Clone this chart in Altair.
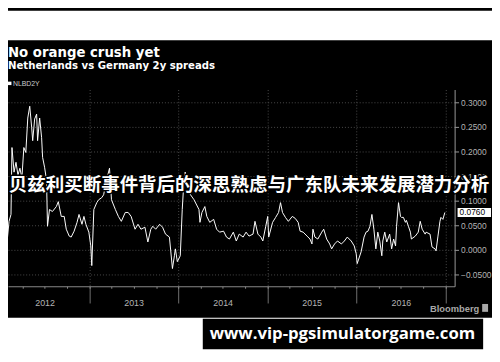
import altair as alt
import pandas as pd

TITLE = "No orange crush yet"
SUBTITLE = "Netherlands vs Germany 2y spreads"
SERIES = "NLBD2Y"
OVERLAY = "贝兹利买断事件背后的深思熟虑与广东队未来发展潜力分析"
URL = "www.vip-pgsimulatorgame.com"
SOURCE = "Bloomberg"

# time as decimal years
decimal_years = [
    2012.000, 2012.022, 2012.055, 2012.077, 2012.099, 2012.121, 2012.132, 2012.155, 2012.177, 2012.199,
    2012.221, 2012.243, 2012.265, 2012.287, 2012.309, 2012.331, 2012.353, 2012.364, 2012.386, 2012.408,
    2012.419, 2012.442, 2012.464, 2012.475, 2012.497, 2012.519, 2012.530, 2012.552, 2012.585, 2012.629,
    2012.651, 2012.684, 2012.717, 2012.740, 2012.773, 2012.795, 2012.828, 2012.861, 2012.883, 2012.916,
    2012.938, 2012.960, 2012.993, 2013.015, 2013.026, 2013.049, 2013.082, 2013.104, 2013.137, 2013.159,
    2013.192, 2013.225, 2013.247, 2013.291, 2013.325, 2013.358, 2013.402, 2013.435, 2013.468, 2013.512,
    2013.545, 2013.578, 2013.623, 2013.656, 2013.689, 2013.711, 2013.744, 2013.788, 2013.821, 2013.854,
    2013.898, 2013.932, 2013.954, 2013.965, 2013.987, 2014.020, 2014.042, 2014.053, 2014.075, 2014.097,
    2014.119, 2014.174, 2014.230, 2014.241, 2014.263, 2014.296, 2014.318, 2014.351, 2014.395, 2014.428,
    2014.461, 2014.506, 2014.539, 2014.572, 2014.616, 2014.649, 2014.682, 2014.726, 2014.759, 2014.792,
    2014.837, 2014.859, 2014.892, 2014.925, 2014.947, 2014.980, 2015.002, 2015.013, 2015.057, 2015.091,
    2015.124, 2015.146, 2015.168, 2015.201, 2015.234, 2015.278, 2015.311, 2015.344, 2015.366, 2015.400,
    2015.444, 2015.477, 2015.499, 2015.510, 2015.532, 2015.565, 2015.609, 2015.631, 2015.664, 2015.698,
    2015.720, 2015.753, 2015.786, 2015.830, 2015.863, 2015.896, 2015.940, 2015.974, 2015.996, 2016.007,
    2016.051, 2016.084, 2016.106, 2016.128, 2016.150, 2016.172, 2016.194, 2016.216, 2016.238, 2016.260,
    2016.283, 2016.294, 2016.316, 2016.338, 2016.371, 2016.393, 2016.415, 2016.437, 2016.448, 2016.470,
    2016.492, 2016.503, 2016.525, 2016.547, 2016.558, 2016.581, 2016.603, 2016.614, 2016.658, 2016.691,
    2016.713, 2016.735, 2016.768, 2016.779, 2016.823, 2016.845, 2016.879, 2016.890, 2016.912, 2016.934,
    2016.945, 2016.967, 2016.989,
]

spread = [
    0.058, 0.006, 0.062, 0.016, 0.058, 0.072, 0.208, 0.158, 0.178, 0.152,
    0.166, 0.146, 0.208, 0.198, 0.268, 0.292, 0.248, 0.222, 0.266, 0.276,
    0.222, 0.268, 0.228, 0.188, 0.168, 0.142, 0.048, 0.082, 0.078, 0.088,
    0.098, 0.068, 0.068, 0.042, 0.028, 0.026, 0.038, 0.056, 0.072, 0.052,
    0.068, 0.052, 0.036, 0.008, -0.032, 0.082, 0.096, 0.102, 0.106, 0.112,
    0.142, 0.166, 0.102, 0.082, 0.068, 0.058, 0.076, 0.076, 0.068, 0.042,
    0.052, 0.042, 0.046, 0.016, 0.042, 0.048, 0.042, 0.052, 0.046, 0.032,
    0.026, -0.038, -0.012, 0.002, -0.024, -0.012, 0.082, 0.116, 0.158, 0.142,
    0.116, 0.102, 0.082, 0.056, 0.076, 0.088, 0.068, 0.056, 0.062, 0.042,
    0.036, 0.038, 0.026, 0.022, 0.036, 0.018, 0.032, 0.026, 0.036, 0.028,
    0.032, 0.058, 0.032, 0.026, 0.018, 0.048, 0.068, 0.026, 0.056, 0.066,
    0.076, 0.096, 0.076, 0.066, 0.058, 0.068, 0.064, 0.056, 0.038, 0.036,
    0.028, 0.022, 0.012, 0.042, 0.026, 0.022, 0.036, 0.042, 0.022, 0.012,
    0.002, 0.012, 0.018, 0.012, 0.018, 0.026, 0.018, 0.008, -0.008, -0.028,
    -0.004, 0.026, 0.036, 0.038, 0.048, 0.072, 0.042, 0.002, 0.036, 0.018,
    -0.012, 0.018, 0.036, 0.016, 0.032, 0.002, 0.022, 0.008, 0.048, 0.096,
    0.068, 0.066, 0.066, 0.056, 0.060, 0.048, 0.036, 0.022, 0.028, 0.036,
    0.058, 0.042, 0.032, 0.036, 0.032, 0.006, 0.002, -0.002, 0.028, 0.058,
    0.066, 0.062, 0.076,
]

y_ticks = [-0.05, 0.0, 0.05, 0.10, 0.15, 0.20, 0.25, 0.30]
year_bounds = [2013, 2014, 2015, 2016, 2017]
quarter_ticks = [(y, m) for y in [2012, 2013, 2014, 2015, 2016] for m in [1, 4, 7, 10]][1:] + [(2017, 1)]
last_label = ["0.0760"]
last_value = [0.076]


def to_date(t):
    year = int(t)
    start = pd.Timestamp(year=year, month=1, day=1)
    end = pd.Timestamp(year=year + 1, month=1, day=1)
    return start + (end - start) * (t - year)


df = pd.DataFrame({
    "date": [to_date(t).strftime("%Y-%m-%dT%H:%M:%S") for t in decimal_years],
    "spread": spread,
})
last_df = pd.DataFrame({"spread": last_value, "label": last_label})
one = alt.Data(values=[{}])

x_scale = alt.Scale(domain=[alt.DateTime(year=2012, month=2, date=2),
                            alt.DateTime(year=2017, month=2, date=6)])
y_scale = alt.Scale(domain=[-0.074, 0.326], nice=False, zero=False)

y_axis = alt.Axis(orient="right", values=y_ticks, format=".4f", title="",
                  tickSize=4, tickColor="#9a9a9a", domainColor="#9a9a9a",
                  labelColor="#b4b4b4", labelFontSize=8.5, labelFont="Liberation Sans",
                  labelPadding=2, labelOverlap=False, labelFlush=False,
                  grid=True, gridColor="#4a4a4a", gridDash=[1, 2])
year_axis = alt.Axis(orient="bottom",
                     values=[alt.DateTime(year=y, month=1, date=1) for y in year_bounds],
                     labels=False, tickSize=17, tickColor="#707070",
                     domainColor="#8a8a8a", grid=True, gridColor="#4a4a4a",
                     gridDash=[1, 2], title="")
quarter_axis = alt.Axis(orient="bottom",
                        values=[alt.DateTime(year=y, month=m, date=1) for y, m in quarter_ticks],
                        tickSize=2, tickColor="#8a8a8a", domain=False, grid=False,
                        labelExpr="month(datum.value) == 6 ? timeFormat(datum.value, '%Y') : ''",
                        labelColor="#b4b4b4", labelFontSize=9, labelFont="Liberation Sans",
                        labelPadding=11, labelOverlap=False, labelFlush=False, title="")

white_top = alt.Chart(one).mark_rect(color="white").encode(
    x=alt.value(0), x2=alt.value(492), y=alt.value(-80), y2=alt.value(-50))
white_bottom = alt.Chart(one).mark_rect(color="white").encode(
    x=alt.value(0), x2=alt.value(492), y=alt.value(232), y2=alt.value(270))
url_box = alt.Chart(one).mark_rect(color="black").encode(
    x=alt.value(198), x2=alt.value(483), y=alt.value(233), y2=alt.value(264))

line_a = alt.Chart(df).mark_line(color="white", strokeWidth=1, clip=True).encode(
    x=alt.X("date:T", scale=x_scale, axis=year_axis),
    y=alt.Y("spread:Q", scale=y_scale, axis=y_axis))
line_b = alt.Chart(df).mark_line(opacity=0).encode(
    x=alt.X("date:T", scale=x_scale, axis=quarter_axis),
    y=alt.Y("spread:Q", scale=y_scale, axis=y_axis))

box = alt.Chart(last_df).mark_rect(color="white", height=9).encode(
    x=alt.value(457), x2=alt.value(491), y=alt.Y("spread:Q", scale=y_scale, axis=y_axis))
box_text = alt.Chart(last_df).mark_text(align="left", baseline="middle", color="black",
                                        fontSize=8.5, font="Liberation Sans").encode(
    x=alt.value(459), y=alt.Y("spread:Q", scale=y_scale, axis=y_axis), text="label:N")

title = alt.Chart(one).mark_text(text=TITLE, align="left", baseline="alphabetic",
                                 font="DejaVu Sans", fontWeight="bold", fontSize=13.5,
                                 color="white").encode(x=alt.value(0), y=alt.value(-33))
subtitle = alt.Chart(one).mark_text(text=SUBTITLE, align="left", baseline="alphabetic",
                                    font="DejaVu Sans", fontWeight="bold", fontSize=10.3,
                                    color="white").encode(x=alt.value(0), y=alt.value(-21))
legend_sq = alt.Chart(one).mark_rect(color="white").encode(
    x=alt.value(0), x2=alt.value(3.5), y=alt.value(-8), y2=alt.value(-4.5))
legend_txt = alt.Chart(one).mark_text(text=SERIES, align="left", baseline="alphabetic",
                                      font="Liberation Sans", fontSize=7,
                                      color="#cccccc").encode(x=alt.value(5), y=alt.value(-4))
source = alt.Chart(one).mark_text(text=SOURCE, align="right", baseline="alphabetic",
                                  font="Liberation Sans", fontWeight="bold", fontSize=9.5,
                                  color="#a8a8a8").encode(x=alt.value(479), y=alt.value(226))
source_icon = alt.Chart(one).mark_rect(color="#a8a8a8").encode(
    x=alt.value(482), x2=alt.value(488), y=alt.value(218), y2=alt.value(226))

overlay_stroke = alt.Chart(one).mark_text(text=OVERLAY, align="center", baseline="middle",
                                          font="Noto Sans CJK SC", fontWeight="bold",
                                          fontSize=18.8, color="white", stroke="black",
                                          strokeWidth=3, strokeJoin="round").encode(
    x=alt.value(245), y=alt.value(97))
overlay_fill = alt.Chart(one).mark_text(text=OVERLAY, align="center", baseline="middle",
                                        font="Noto Sans CJK SC", fontWeight="bold",
                                        fontSize=18.8, color="white").encode(
    x=alt.value(245), y=alt.value(97))
url_text = alt.Chart(one).mark_text(text=URL, align="center", baseline="alphabetic",
                                    font="Open Sans", fontWeight="bold", fontSize=17,
                                    color="white").encode(x=alt.value(340), y=alt.value(254))

chart = alt.layer(
    white_top, white_bottom, url_box, line_a, line_b, box, box_text,
    title, subtitle, legend_sq, legend_txt, source, source_icon,
    overlay_stroke, overlay_fill, url_text,
).resolve_axis(x="independent").properties(
    width=454, height=200, background="black",
    padding={"left": 0, "top": 80, "right": 38, "bottom": 66},
    autosize=alt.AutoSizeParams(type="none"),
).configure_view(stroke="transparent").configure_axis(labelOverlap=False)

chart.save("out.html", embed_options={"renderer": "svg", "actions": False})
